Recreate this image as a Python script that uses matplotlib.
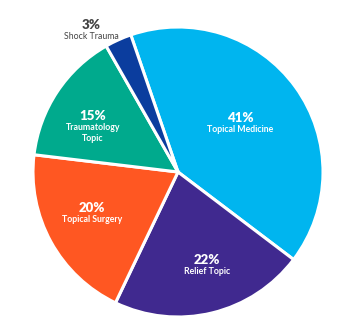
import numpy as np
import matplotlib
matplotlib.use("Agg")
import matplotlib.pyplot as plt

# slice data, clockwise from the top
labels = ["Topical Medicine", "Relief Topic", "Topical Surgery", "Traumatology\nTopic", "Shock Trauma"]
values = [41, 22, 20, 15, 3]
colors = ["#00B5EF", "#40298F", "#FF5722", "#00AA8D", "#0B3D9E"]

plt.rcParams["font.family"] = ["Lato", "DejaVu Sans"]

fig = plt.figure(figsize=(3.62, 3.34), dpi=100)
# axes of 290 px square, centred on the pie centre (178, 172) px
ax = fig.add_axes([(178 - 145) / 362, (334 - 172 - 145) / 334, 290 / 362, 290 / 334])

wedges, _ = ax.pie(values, colors=colors, startangle=109, counterclock=False,
                   radius=1.0, wedgeprops=dict(edgecolor="white", linewidth=2.2))

# radial distance and angle nudge for each label (first label line centre)
label_dist = [0.517, 0.718, 0.679, 0.66, 1.105]
label_nudge = [-1.8, 2.5, 0.3, 6.3, 8.3]

for i, w in enumerate(wedges):
    mid = np.deg2rad((w.theta1 + w.theta2) / 2 + label_nudge[i])
    x = label_dist[i] * np.cos(mid)
    y = label_dist[i] * np.sin(mid)
    inside = i < 4
    col = "white" if inside else "#444444"
    ax.text(x, y + 0.085, f"{values[i]}%", ha="center", va="center",
            fontsize=9.5, fontweight="heavy", color=col)
    ax.text(x, y + 0.033, labels[i], ha="center", va="top", fontsize=6.3,
            fontweight="bold" if inside else "normal", color=col, linespacing=1.3)

ax.set_xlim(-1, 1)
ax.set_ylim(-1, 1)
ax.set_aspect("auto")
ax.axis("off")

fig.savefig("out.png", dpi=100)
